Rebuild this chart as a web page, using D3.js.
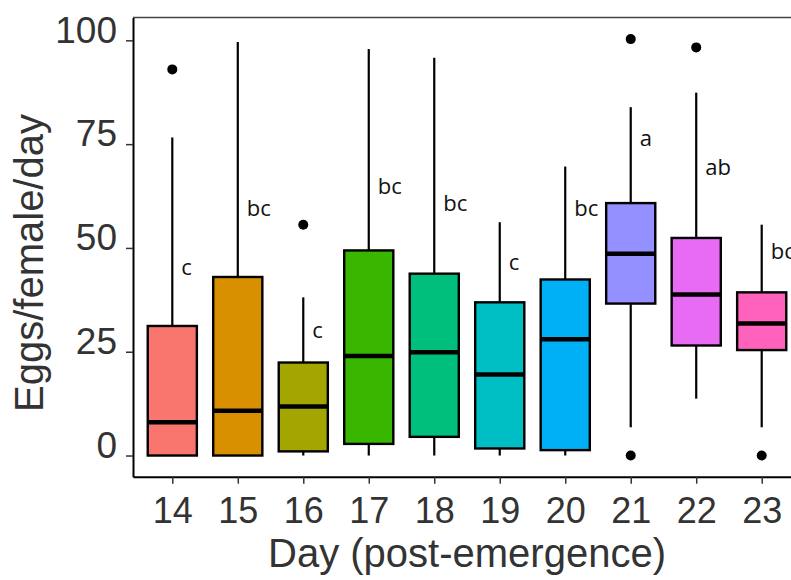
<!DOCTYPE html>
<html>
  <head>
    <title>Eggs per female per day</title>
    <script src="https://cdn.jsdelivr.net/npm/d3@7/dist/d3.min.js"></script>
    <style>
      body { margin: 0; background: #fff; }
    </style>
  </head>
  <body>
    <svg width="791" height="580" id="mainsvg"></svg>
    <script>
        // one entry per day: box statistics
        const days = ['14', '15', '16', '17', '18', '19', '20', '21', '22', '23'];
        const whiskerLow  = [0, 0, 0, 0, 0, 0, 0, 6.8, 13.7, 6.8];
        const q1          = [0, 0, 1.0, 2.8, 4.5, 1.7, 1.3, 36.6, 26.5, 25.4];
        const medians     = [8.0, 10.8, 11.8, 24.0, 24.9, 19.5, 28.0, 48.6, 38.8, 31.8];
        const q3          = [31.2, 43.0, 22.4, 49.4, 43.8, 36.9, 42.4, 60.8, 52.4, 39.3];
        const whiskerHigh = [76.6, 99.6, 38.1, 97.9, 95.8, 56.2, 69.6, 83.9, 87.4, 55.6];
        const outliers    = [[93.0], [], [55.6], [], [], [], [], [100.3, 0], [98.3], [0]];
        const letters     = ['c', 'bc', 'c', 'bc', 'bc', 'c', 'bc', 'a', 'ab', 'bc'];
        const letterAt    = [43.6, 57.6, 28.2, 63.0, 59.0, 44.6, 57.6, 74.5, 67.6, 47.3];
        const yTicks = [0, 25, 50, 75, 100];
        const colors = ['#F8766D', '#D89000', '#A3A500', '#39B600', '#00BF7D',
                        '#00BFC4', '#00B0F6', '#9590FF', '#E76BF3', '#FF62BC'];

        const data = days.map((d, i) => ({
          day: d, lo: whiskerLow[i], q1: q1[i], med: medians[i], q3: q3[i],
          hi: whiskerHigh[i], out: outliers[i], letter: letters[i], letterY: letterAt[i],
          color: colors[i]
        }));

        const svg = d3.select('#mainsvg');
        const panel = {left: 133, right: 801, top: 17.5, bottom: 476.7};

        const xScale = d3.scalePoint()
          .domain(days)
          .range([panel.left, panel.right])
          .padding(0.6);
        const yScale = d3.scaleLinear()
          .domain([-5.1, 105.5])
          .range([panel.bottom, panel.top]);

        const boxW = xScale.step() * 0.75;
        const textCol = '#333';
        const font = 'Liberation Sans, Arial, sans-serif';

        // top border of the panel
        svg.append('line')
          .attr('x1', panel.left).attr('x2', panel.right)
          .attr('y1', panel.top).attr('y2', panel.top)
          .attr('stroke', '#444').attr('stroke-width', 1.5);

        // axes
        const yAxis = d3.axisLeft(yScale).tickValues(yTicks).tickSize(7).tickSizeOuter(0);
        const gy = svg.append('g').attr('transform', `translate(${panel.left}, 0)`).call(yAxis);
        gy.select('.domain').attr('stroke', '#000').attr('stroke-width', 2);
        gy.selectAll('.tick line').attr('stroke', '#333').attr('stroke-width', 1.5);
        gy.selectAll('.tick text')
          .attr('x', -16).attr('dy', '0.05em')
          .attr('font-size', 37).attr('font-family', font).attr('fill', textCol);

        const xAxis = d3.axisBottom(xScale).tickSize(7).tickSizeOuter(0);
        const gx = svg.append('g').attr('transform', `translate(0, ${panel.bottom})`).call(xAxis);
        gx.select('.domain').attr('stroke', '#000').attr('stroke-width', 2);
        gx.selectAll('.tick line').attr('stroke', '#333').attr('stroke-width', 1.5);
        gx.selectAll('.tick text')
          .attr('y', 46).attr('dy', 0)
          .attr('font-size', 36).attr('font-family', font).attr('fill', textCol);

        // boxes
        const boxes = svg.append('g').selectAll('g').data(data).join('g')
          .attr('transform', d => `translate(${xScale(d.day)}, 0)`);

        boxes.append('line')
          .attr('y1', d => yScale(d.hi)).attr('y2', d => yScale(d.q3))
          .attr('stroke', '#000').attr('stroke-width', 2.2);
        boxes.append('line')
          .attr('y1', d => yScale(d.q1)).attr('y2', d => yScale(d.lo))
          .attr('stroke', '#000').attr('stroke-width', 2.2);
        boxes.append('rect')
          .attr('x', -boxW / 2).attr('width', boxW)
          .attr('y', d => yScale(d.q3))
          .attr('height', d => yScale(d.q1) - yScale(d.q3))
          .attr('fill', d => d.color)
          .attr('stroke', '#000').attr('stroke-width', 2.4);
        boxes.append('line')
          .attr('x1', -boxW / 2).attr('x2', boxW / 2)
          .attr('y1', d => yScale(d.med)).attr('y2', d => yScale(d.med))
          .attr('stroke', '#000').attr('stroke-width', 4.5);
        boxes.selectAll('circle').data(d => d.out).join('circle')
          .attr('r', 5)
          .attr('cy', v => yScale(v))
          .attr('fill', '#000');

        // significance letters
        boxes.append('text')
          .attr('x', 9)
          .attr('y', d => yScale(d.letterY))
          .text(d => d.letter)
          .attr('font-size', 22).attr('font-family', 'Open Sans, sans-serif')
          .attr('fill', '#111');

        // axis titles
        svg.append('text')
          .attr('x', (panel.left + panel.right) / 2).attr('y', 567)
          .attr('text-anchor', 'middle')
          .attr('font-size', 40).attr('font-family', font).attr('fill', textCol)
          .text('Day (post-emergence)');
        svg.append('text')
          .attr('transform', `translate(43, 263) rotate(-90)`)
          .attr('text-anchor', 'middle')
          .attr('font-size', 40).attr('font-family', font).attr('fill', textCol)
          .text('Eggs/female/day');
    </script>
  </body>
</html>
